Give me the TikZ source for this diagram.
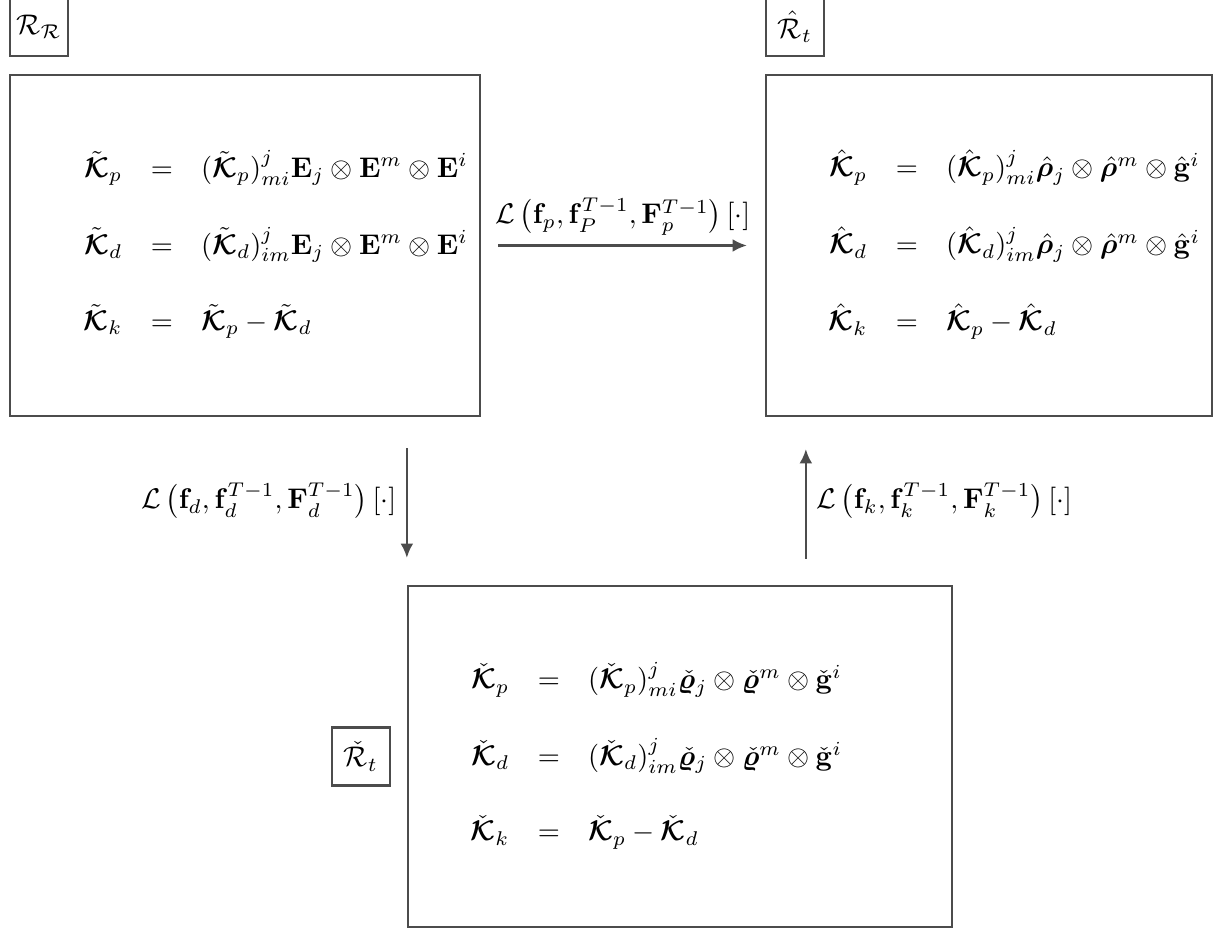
\documentclass[tikz,border=0pt]{standalone}
\usepackage{amsmath,amssymb,bm}
\usetikzlibrary{arrows.meta,positioning}

% one pixel of the layout
\newcommand{\pxu}{0.352pt}
% symbols
\newcommand{\Kt}{\tilde{\bm{\mathcal{K}}}}
\newcommand{\Kh}{\hat{\bm{\mathcal{K}}}}
\newcommand{\Kc}{\check{\bm{\mathcal{K}}}}

\tikzset{
  eqframe/.style={draw=black!70, line width=0.8pt, minimum height=341*\pxu},
  tagbox/.style={draw=black!70, line width=0.8pt, minimum size=58*\pxu, inner sep=0pt},
  eqs/.style={anchor=west, inner sep=0pt},
  maparrow/.style={-{Latex[length=5pt,width=4.5pt]}, draw=black!70, line width=0.8pt},
}

\begin{document}
\begin{tikzpicture}[x=\pxu, y=-\pxu]
\useasboundingbox (0,0) rectangle (1227,930);
% Reference configuration
\node [eqframe, minimum width=470*\pxu] (ref) at (245,245.5) {};
\node [tagbox, above right=17*\pxu and 0pt of ref.north west] (refTag) {$\mathcal{R}_{\mathcal{R}}$};
\node [eqs] (refEq) at ([xshift=60*\pxu]ref.west) {$\begin{array}{rcl}
  \Kt_p & = & (\Kt_p)^{j}_{mi}\mathbf{E}_j\otimes\mathbf{E}^m\otimes\mathbf{E}^i \\[14pt]
  \Kt_d & = & (\Kt_d)^{j}_{im}\mathbf{E}_j\otimes\mathbf{E}^m\otimes\mathbf{E}^i \\[14pt]
  \Kt_k & = & \Kt_p-\Kt_d
\end{array}$};
% Hat configuration
\node [eqframe, minimum width=446*\pxu] (hat) at (989,245.5) {};
\node [tagbox, above right=17*\pxu and 0pt of hat.north west] (hatTag) {$\hat{\mathcal{R}}_t$};
\node [eqs] (hatEq) at ([xshift=49*\pxu]hat.west) {$\begin{array}{rcl}
  \Kh_p & = & (\Kh_p)^{j}_{mi}\hat{\bm{\rho}}_j\otimes\hat{\bm{\rho}}^m\otimes\hat{\mathbf{g}}^i \\[14pt]
  \Kh_d & = & (\Kh_d)^{j}_{im}\hat{\bm{\rho}}_j\otimes\hat{\bm{\rho}}^m\otimes\hat{\mathbf{g}}^i \\[14pt]
  \Kh_k & = & \Kh_p-\Kh_d
\end{array}$};
% Check configuration
\node [eqframe, minimum width=544*\pxu] (chk) at (680,756.5) {};
\node [tagbox, left=16*\pxu of chk] (chkTag) {$\check{\mathcal{R}}_t$};
\node [eqs] (chkEq) at ([xshift=49*\pxu]chk.west) {$\begin{array}{rcl}
  \Kc_p & = & (\Kc_p)^{j}_{mi}\check{\bm{\varrho}}_j\otimes\check{\bm{\varrho}}^m\otimes\check{\mathbf{g}}^i \\[14pt]
  \Kc_d & = & (\Kc_d)^{j}_{im}\check{\bm{\varrho}}_j\otimes\check{\bm{\varrho}}^m\otimes\check{\mathbf{g}}^i \\[14pt]
  \Kc_k & = & \Kc_p-\Kc_d
\end{array}$};
% ref --> hat
\draw [maparrow, shorten <=17*\pxu, shorten >=18*\pxu] (ref) -- (hat)
  node [midway, above] {$\mathcal{L}\left(\mathbf{f}_p,\mathbf{f}_P^{T-1},\mathbf{F}_p^{T-1}\right)[\cdot]$};
% ref --> chk
\draw [maparrow, shorten <=31*\pxu, shorten >=27*\pxu] (chk.north west |- ref.south) -- (chk.north west)
  node [midway, left] {$\mathcal{L}\left(\mathbf{f}_d,\mathbf{f}_d^{T-1},\mathbf{F}_d^{T-1}\right)[\cdot]$};
% chk --> hat
\draw [maparrow, shorten <=26*\pxu, shorten >=32*\pxu] ([xshift=41*\pxu]hat.south west |- chk.north) -- ([xshift=41*\pxu]hat.south west)
  node [midway, right] {$\mathcal{L}\left(\mathbf{f}_k,\mathbf{f}_k^{T-1},\mathbf{F}_k^{T-1}\right)[\cdot]$};
\end{tikzpicture}
\end{document}
